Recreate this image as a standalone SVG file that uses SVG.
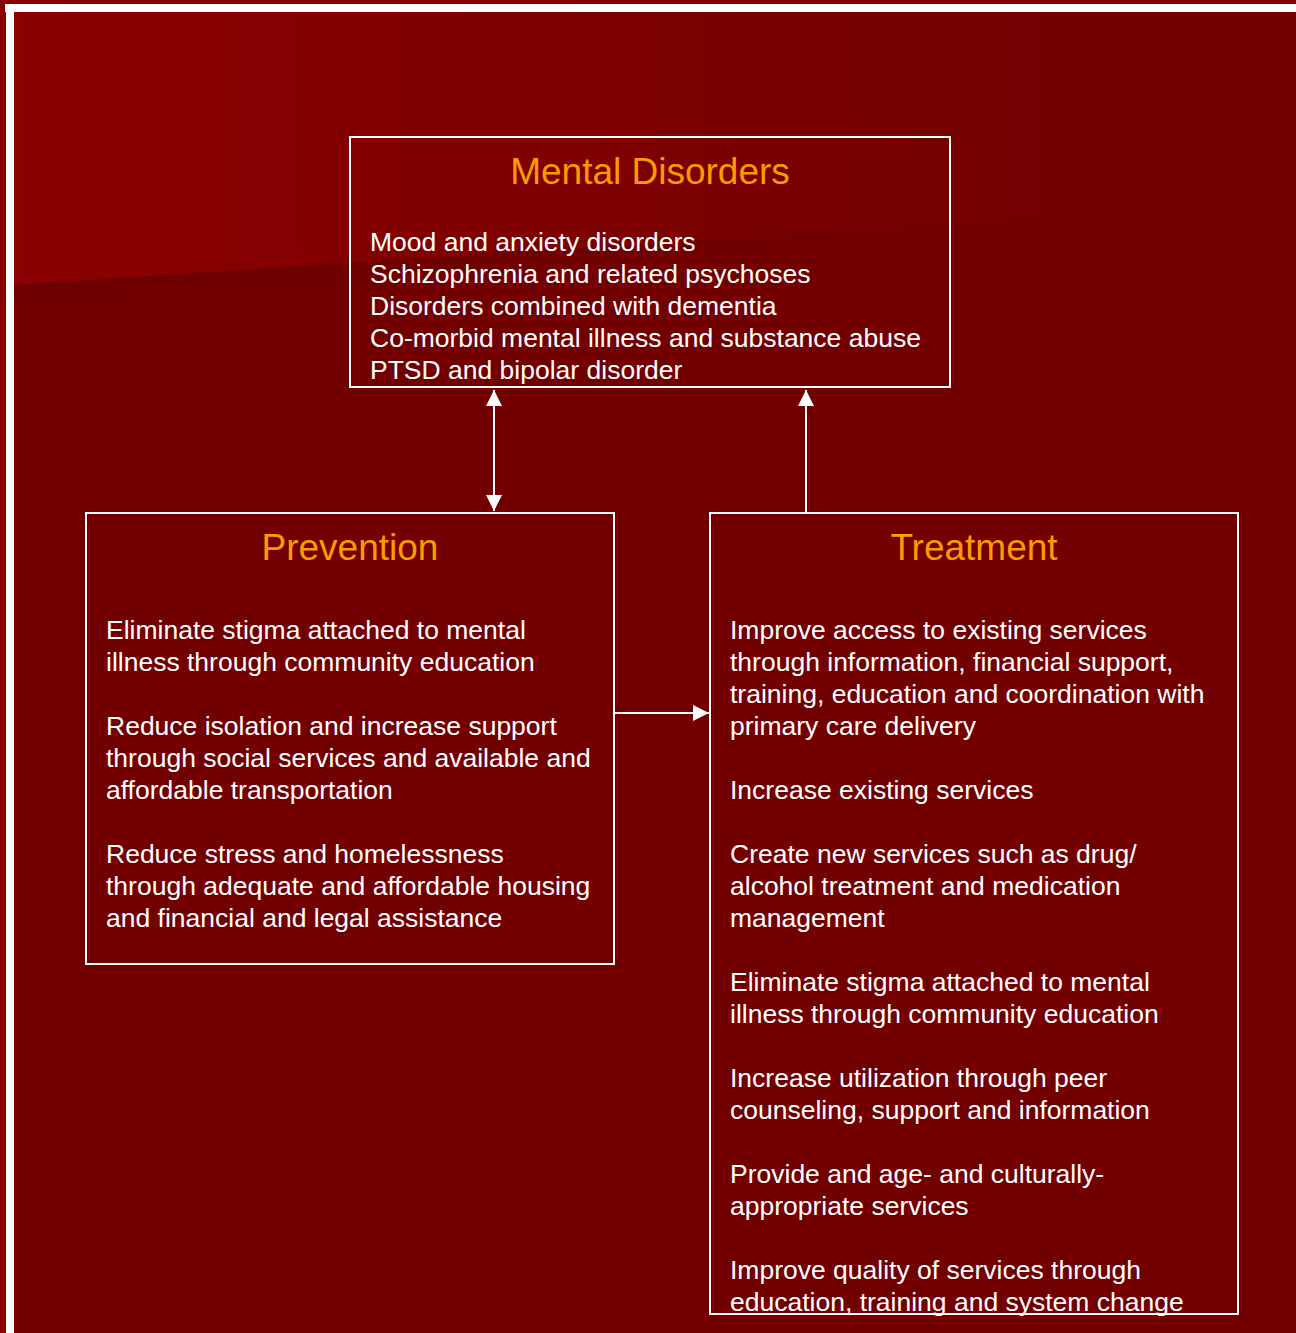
<svg xmlns="http://www.w3.org/2000/svg" width="1296" height="1333" viewBox="0 0 1296 1333">
<style>
.box{fill:none;stroke:#ffffff;stroke-width:2}
.title{font-family:"Liberation Sans",Arial,sans-serif;font-size:37px;fill:#ff9900;text-anchor:middle}
.body{font-family:"Liberation Sans",Arial,sans-serif;font-size:26.5px;fill:#ffffff}
.conn{stroke:#ffffff;stroke-width:2;fill:none}
</style>
<defs>
<linearGradient id="bgTop" x1="0" y1="0" x2="1" y2="0">
<stop offset="0" stop-color="#8b0000"/>
<stop offset="0.7" stop-color="#760000"/>
<stop offset="0.85" stop-color="#720000"/>
<stop offset="1" stop-color="#720000"/>
</linearGradient>
<linearGradient id="shade" x1="0" y1="0" x2="1" y2="0">
<stop offset="0" stop-color="#600000" stop-opacity="0.25"/>
<stop offset="0.7" stop-color="#600000" stop-opacity="0"/>
</linearGradient>
<marker id="ah" viewBox="0 0 10 10" refX="10" refY="5" markerWidth="16" markerHeight="16" markerUnits="userSpaceOnUse" orient="auto-start-reverse">
<path d="M0,0 L10,5 L0,10 z" fill="#ffffff"/>
</marker>
</defs>
<rect x="0" y="0" width="1296" height="1333" fill="#8a0000"/>
<rect x="14" y="12" width="1282" height="1321" fill="#720000"/>
<polygon points="14,12 1296,12 1296,200 14,285" fill="url(#bgTop)"/>
<polygon points="14,285 1296,200 1296,212 14,300" fill="url(#shade)"/>
<rect x="5" y="4" width="1291" height="8" fill="#ffffff"/>
<rect x="6" y="4" width="8" height="1329" fill="#ffffff"/>

<g id="connectors">
<line class="conn" x1="494" y1="390" x2="494" y2="511" marker-start="url(#ah)" marker-end="url(#ah)"/>
<line class="conn" x1="806" y1="513" x2="806" y2="390" marker-end="url(#ah)"/>
<line class="conn" x1="615" y1="713" x2="709" y2="713" marker-end="url(#ah)"/>
</g>

<g id="mental-disorders">
<rect class="box" x="350" y="137" width="600" height="250"/>
<text class="title" x="650" y="184">Mental Disorders</text>
<text class="body" x="370" y="251">Mood and anxiety disorders</text>
<text class="body" x="370" y="283">Schizophrenia and related psychoses</text>
<text class="body" x="370" y="315">Disorders combined with dementia</text>
<text class="body" x="370" y="347">Co-morbid mental illness and substance abuse</text>
<text class="body" x="370" y="379">PTSD and bipolar disorder</text>
</g>

<g id="prevention">
<rect class="box" x="86" y="513" width="528" height="451"/>
<text class="title" x="350" y="560">Prevention</text>
<text class="body" x="106" y="639">Eliminate stigma attached to mental</text>
<text class="body" x="106" y="671">illness through community education</text>
<text class="body" x="106" y="735">Reduce isolation and increase support</text>
<text class="body" x="106" y="767">through social services and available and</text>
<text class="body" x="106" y="799">affordable transportation</text>
<text class="body" x="106" y="863">Reduce stress and homelessness</text>
<text class="body" x="106" y="895">through adequate and affordable housing</text>
<text class="body" x="106" y="927">and financial and legal assistance</text>
</g>

<g id="treatment">
<rect class="box" x="710" y="513" width="528" height="801"/>
<text class="title" x="974" y="560">Treatment</text>
<text class="body" x="730" y="639">Improve access to existing services</text>
<text class="body" x="730" y="671">through information, financial support,</text>
<text class="body" x="730" y="703">training, education and coordination with</text>
<text class="body" x="730" y="735">primary care delivery</text>
<text class="body" x="730" y="799">Increase existing services</text>
<text class="body" x="730" y="863">Create new services such as drug/</text>
<text class="body" x="730" y="895">alcohol treatment and medication</text>
<text class="body" x="730" y="927">management</text>
<text class="body" x="730" y="991">Eliminate stigma attached to mental</text>
<text class="body" x="730" y="1023">illness through community education</text>
<text class="body" x="730" y="1087">Increase utilization through peer</text>
<text class="body" x="730" y="1119">counseling, support and information</text>
<text class="body" x="730" y="1183">Provide and age- and culturally-</text>
<text class="body" x="730" y="1215">appropriate services</text>
<text class="body" x="730" y="1279">Improve quality of services through</text>
<text class="body" x="730" y="1311">education, training and system change</text>
</g>
</svg>
